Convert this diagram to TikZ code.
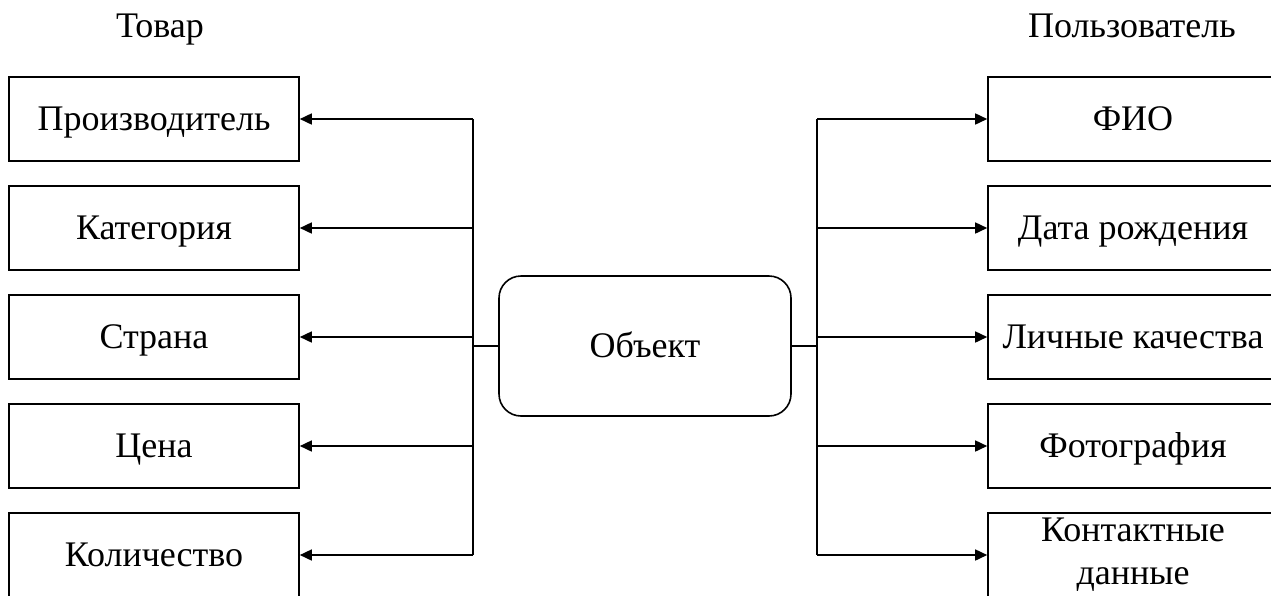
\documentclass[tikz,border=0pt]{standalone}
\usepackage{fontspec}
\setmainfont{Liberation Serif}
\usetikzlibrary{arrows.meta}
\begin{document}
\begin{tikzpicture}[x=1pt,y=-1pt,
  every node/.style={font=\fontsize{36}{43}\selectfont,inner sep=0pt},
  label/.style={text height=30pt,text depth=8pt},
  field/.style={draw,line width=1.6pt,minimum width=290pt,minimum height=84pt,align=center},
  onerow/.style={field,label},
  objbox/.style={draw,line width=1.6pt,rounded corners=22pt,minimum width=292pt,minimum height=140pt,label},
  bus/.style={line width=1.6pt},
  link/.style={line width=1.6pt,-{Triangle[length=12pt,width=11pt]}}]
\useasboundingbox (0,0) rectangle (1271,595);
\clip (0,0) rectangle (1271,595);

% group headings
\node[label] (tov) at (160,26) {Товар};
\node[label] (pol) at (1132,26) {Пользователь};

% central object
\node[objbox] (obj) at (645,346) {Объект};

% product attributes
\node[onerow] (l1) at (154,119) {Производитель};
\node[onerow] (l2) at (154,228) {Категория};
\node[onerow] (l3) at (154,337) {Страна};
\node[onerow] (l4) at (154,446) {Цена};
\node[onerow] (l5) at (154,555) {Количество};

% user attributes
\node[onerow] (r1) at (1133,119) {ФИО};
\node[onerow] (r2) at (1133,228) {Дата рождения};
\node[onerow] (r3) at (1133,337) {Личные качества};
\node[onerow] (r4) at (1133,446) {Фотография};
\node[field] (r5) at (1133,555) {Контактные\\данные};

% bus junctions
\foreach \i/\y in {1/119,2/228,3/337,4/446,5/555}{
  \coordinate (jl\i) at (473,\y);
  \coordinate (jr\i) at (817,\y);
}

% left bus
\draw[bus] (jl1) -- (jl5);
\draw[bus] (obj.west) -- (obj.west -| jl1);
\foreach \i in {1,...,5}{\draw[link] (jl\i) -- (l\i.east);}

% right bus
\draw[bus] (jr1) -- (jr5);
\draw[bus] (obj.east) -- (obj.east -| jr1);
\foreach \i in {1,...,5}{\draw[link] (jr\i) -- (r\i.west);}
\end{tikzpicture}
\end{document}
